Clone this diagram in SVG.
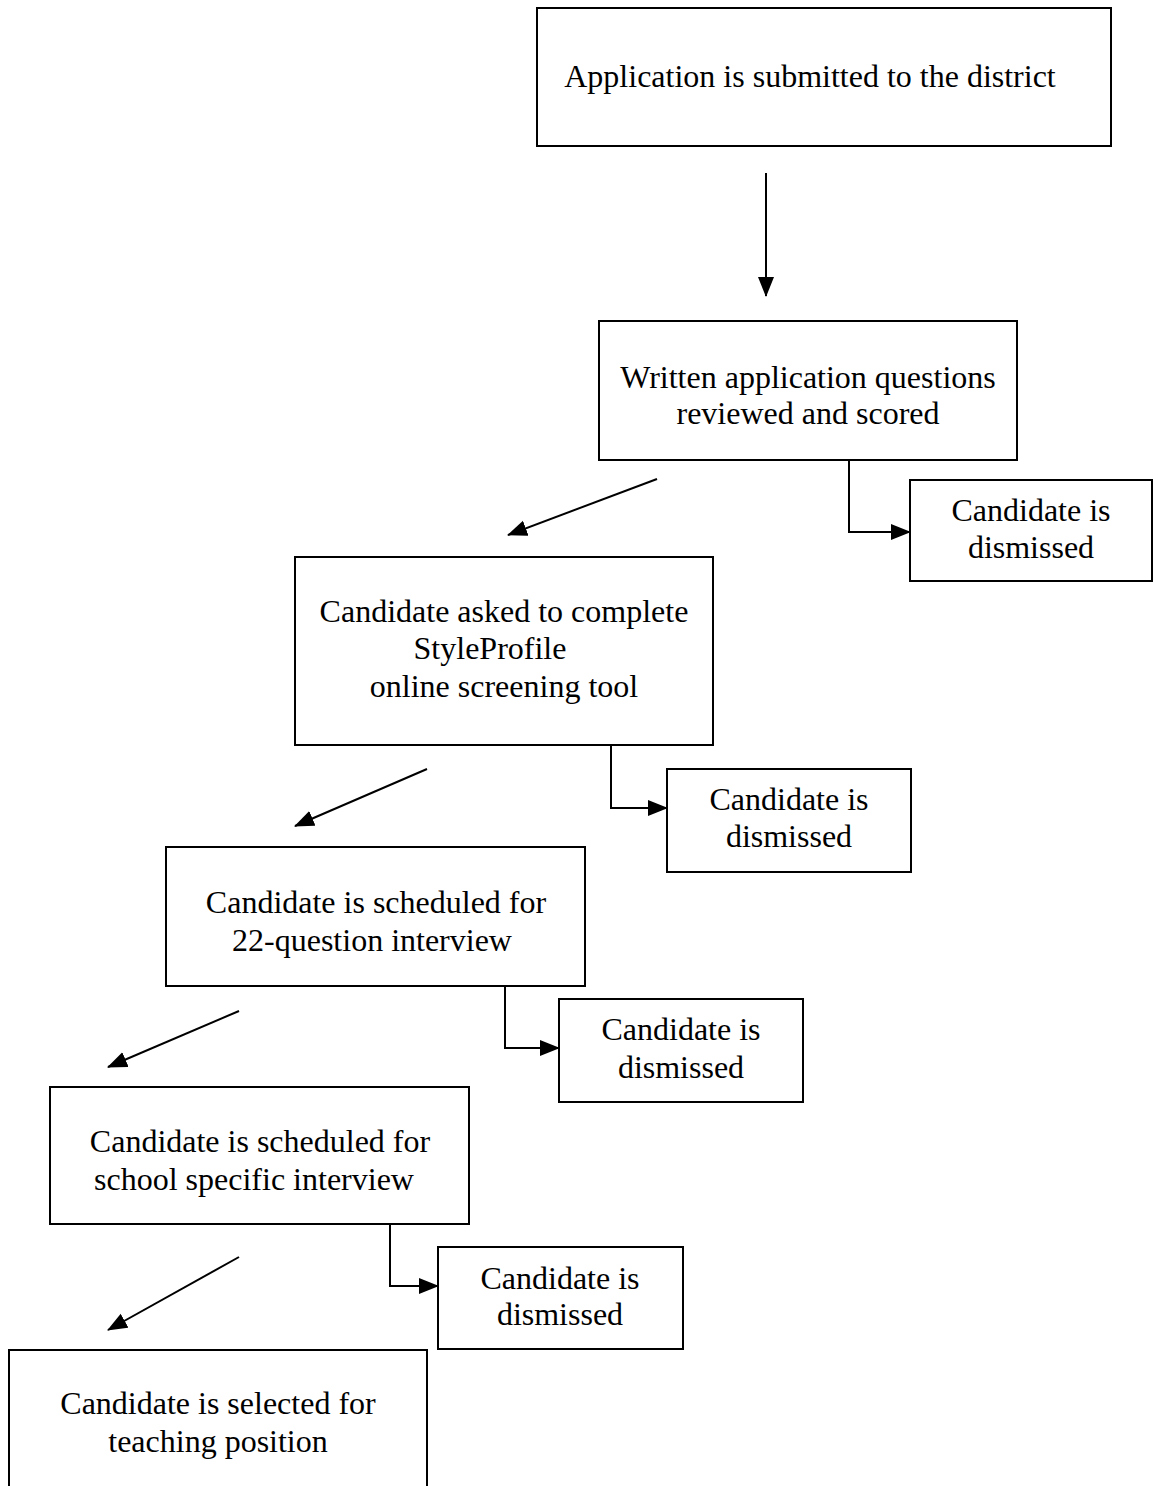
<svg xmlns="http://www.w3.org/2000/svg" width="1158" height="1486" viewBox="0 0 1158 1486">
<style>
.box{fill:#fff;stroke:#000;stroke-width:2}
.t{font-family:"Liberation Serif","Times New Roman",serif;font-size:32px;fill:#000;text-anchor:middle}
.c{fill:none;stroke:#000;stroke-width:2}
</style>
<defs>
<marker id="ah" markerUnits="userSpaceOnUse" markerWidth="22" markerHeight="18" refX="19" refY="8" orient="auto">
<path d="M0,0 L20,8 L0,16 Z" fill="#000"/>
</marker>
</defs>
<rect width="1158" height="1486" fill="#fff"/>
<g id="connectors">
<line class="c" x1="766" y1="173" x2="766" y2="296" marker-end="url(#ah)"/>
<line class="c" x1="657" y1="479" x2="508" y2="535" marker-end="url(#ah)"/>
<polyline class="c" points="849,460 849,532 910,532" marker-end="url(#ah)"/>
<line class="c" x1="427" y1="769" x2="295" y2="826" marker-end="url(#ah)"/>
<polyline class="c" points="611,745 611,808 667,808" marker-end="url(#ah)"/>
<line class="c" x1="239" y1="1011" x2="108" y2="1067" marker-end="url(#ah)"/>
<polyline class="c" points="505,986 505,1048 559,1048" marker-end="url(#ah)"/>
<line class="c" x1="239" y1="1257" x2="108" y2="1330" marker-end="url(#ah)"/>
<polyline class="c" points="390,1224 390,1286 438,1286" marker-end="url(#ah)"/>
</g>
<g id="n1"><rect class="box" x="537" y="8" width="574" height="138"/><text class="t" x="810" y="87">Application is submitted to the district</text></g>
<g id="n2"><rect class="box" x="599" y="321" width="418" height="139"/><text class="t" x="808" y="388">Written application questions</text><text class="t" x="808" y="424">reviewed and scored</text></g>
<g id="d1"><rect class="box" x="910" y="480" width="242" height="101"/><text class="t" x="1031" y="521">Candidate is</text><text class="t" x="1031" y="558">dismissed</text></g>
<g id="n3"><rect class="box" x="295" y="557" width="418" height="188"/><text class="t" x="504" y="622">Candidate asked to complete</text><text class="t" x="490" y="659">StyleProfile</text><text class="t" x="504" y="697">online screening tool</text></g>
<g id="d2"><rect class="box" x="667" y="769" width="244" height="103"/><text class="t" x="789" y="810">Candidate is</text><text class="t" x="789" y="847">dismissed</text></g>
<g id="n4"><rect class="box" x="166" y="847" width="419" height="139"/><text class="t" x="376" y="913">Candidate is scheduled for</text><text class="t" x="372" y="951">22-question interview</text></g>
<g id="d3"><rect class="box" x="559" y="999" width="244" height="103"/><text class="t" x="681" y="1040">Candidate is</text><text class="t" x="681" y="1078">dismissed</text></g>
<g id="n5"><rect class="box" x="50" y="1087" width="419" height="137"/><text class="t" x="260" y="1152">Candidate is scheduled for</text><text class="t" x="254" y="1190">school specific interview</text></g>
<g id="d4"><rect class="box" x="438" y="1247" width="245" height="102"/><text class="t" x="560" y="1289">Candidate is</text><text class="t" x="560" y="1325">dismissed</text></g>
<g id="n6"><rect class="box" x="9" y="1350" width="418" height="140"/><text class="t" x="218" y="1414">Candidate is selected for</text><text class="t" x="218" y="1452">teaching position</text></g>
</svg>
